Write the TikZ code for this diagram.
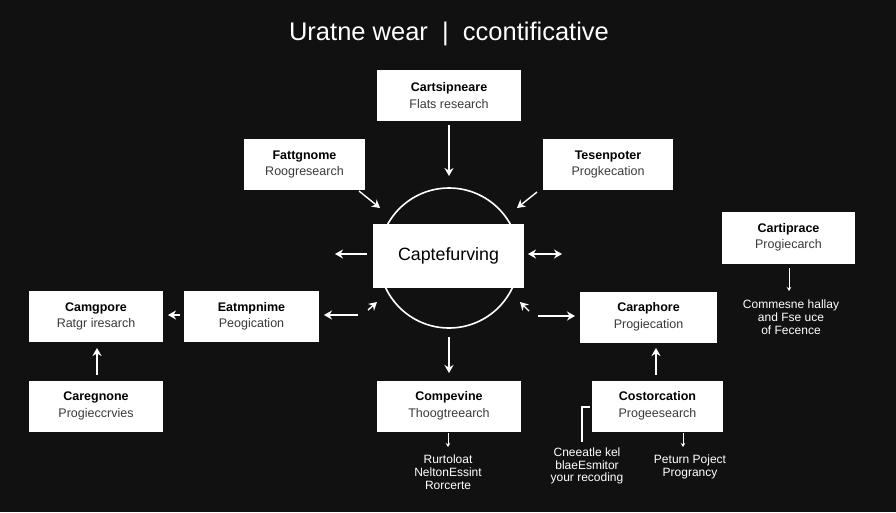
\documentclass[tikz,border=0pt]{standalone}
\usepackage{fontspec}
\setmainfont{Liberation Sans}
\usetikzlibrary{arrows.meta}
\definecolor{bgc}{HTML}{111111}
\definecolor{subc}{HTML}{3A3A3A}
\begin{document}
\begin{tikzpicture}[x=1pt,y=-1pt,
  card/.style={fill=white, inner sep=0pt, align=center, text=black, font=\fontsize{12.5}{16.5}\selectfont},
  arr/.style={draw=white, line width=1.4pt, -{Stealth[length=8pt,width=9pt]}},
  darr/.style={draw=white, line width=1.4pt, {Stealth[length=8pt,width=9pt]}-{Stealth[length=8pt,width=9pt]}},
  tarr/.style={draw=white, line width=0.9pt, -{Stealth[length=4pt,width=4.5pt]}},
  note/.style={text=white, align=center, font=\fontsize{12}{12.8}\selectfont},
  ring/.style={draw=white, line width=1.6pt, circle, inner sep=0pt, minimum size=140pt}]
\fill[bgc] (0,0) rectangle (896,512);
\useasboundingbox (0,0) rectangle (896,512);

% title
\node[text=white, font=\fontsize{25.5}{28}\selectfont] (title) at (449,34) {Uratne wear\ \ |\ \ ccontificative};

% ring and central box
\node[ring] (ring) at (449,258) {};
\node[card, minimum width=151pt, minimum height=64pt, font=\fontsize{17.8}{20}\selectfont] (cap) at (448.5,256) {Captefurving};

% boxes
\node[card, minimum width=144pt, minimum height=51pt] (top) at (449,95.5) {{\bfseries Cartsipneare}\\\textcolor{subc}{Flats research}};
\node[card, minimum width=121pt, minimum height=51pt] (fat) at (304.5,164.5) {{\bfseries Fattgnome}\\\textcolor{subc}{Roogresearch}};
\node[card, minimum width=130pt, minimum height=51pt] (tes) at (608,164.5) {{\bfseries Tesenpoter}\\\textcolor{subc}{Progkecation}};
\node[card, minimum width=133pt, minimum height=52pt] (cart) at (788.5,237.5) {{\bfseries Cartiprace}\\\textcolor{subc}{Progiecarch}};
\node[card, minimum width=135pt, minimum height=51pt] (eat) at (251.5,316.5) {{\bfseries Eatmpnime}\\\textcolor{subc}{Peogication}};
\node[card, minimum width=134pt, minimum height=51pt] (camg) at (96,316.5) {{\bfseries Camgpore}\\\textcolor{subc}{Ratgr iresarch}};
\node[card, minimum width=134pt, minimum height=51pt] (careg) at (96,406) {{\bfseries Caregnone}\\\textcolor{subc}{Progieccrvies}};
\node[card, minimum width=137pt, minimum height=51pt] (cara) at (648.5,317) {{\bfseries Caraphore}\\\textcolor{subc}{Progiecation}};
\node[card, minimum width=144pt, minimum height=51pt] (comp) at (449,406) {{\bfseries Compevine}\\\textcolor{subc}{Thoogtreearch}};
\node[card, minimum width=131pt, minimum height=51pt] (cost) at (657.5,406) {{\bfseries Costorcation}\\\textcolor{subc}{Progeesearch}};

% notes
\node[note] (n1) at (791,317) {Commesne hallay\\and Fse uce\\of Fecence};
\node[note] (n2) at (448,472) {Rurtoloat\\NeltonEssint\\Rorcerte};
\node[note] (n3) at (587,466) {Cneeatle kel\\blaeEsmitor\\your recoding};
\node[note] (n4) at (690,467) {Peturn Poject\\Prograncy};

% free-end coordinates
\coordinate (a1) at (449,125);  \coordinate (b1) at (449,176);
\coordinate (a2) at (359,191);  \coordinate (b2) at (380,208);
\coordinate (a3) at (537,192);  \coordinate (b3) at (517,208);
\coordinate (a4) at (367,254);  \coordinate (b4) at (335,254);
\coordinate (a5) at (528,254);  \coordinate (b5) at (562,254);
\coordinate (a6) at (368,310);  \coordinate (b6) at (377,302);
\coordinate (a7) at (358,315);  \coordinate (b7) at (324,315);
\coordinate (a8) at (180,315);  \coordinate (b8) at (168,315);
\coordinate (a9) at (529,311);  \coordinate (b9) at (520,302);
\coordinate (a10) at (538,316); \coordinate (b10) at (575,316);
\coordinate (a11) at (97,375);  \coordinate (b11) at (97,348);
\coordinate (a12) at (449,337); \coordinate (b12) at (449,373);
\coordinate (a13) at (448,433); \coordinate (b13) at (448,447);
\coordinate (a14) at (656,375); \coordinate (b14) at (656,348);
\coordinate (a15) at (683,433); \coordinate (b15) at (683,447);
\coordinate (a16) at (789,268); \coordinate (b16) at (789,291);
\coordinate (k1) at (590,407); \coordinate (k2) at (582,407); \coordinate (k3) at (582,442);

% connectors
\draw[arr] (a1) -- (b1);
\draw[arr] (a2) -- (b2);
\draw[arr] (a3) -- (b3);
\draw[arr] (a4) -- (b4);
\draw[darr] (a5) -- (b5);
\draw[arr] (a6) -- (b6);
\draw[arr] (a7) -- (b7);
\draw[arr] (a8) -- (b8);
\draw[arr] (a9) -- (b9);
\draw[arr] (a10) -- (b10);
\draw[arr] (a11) -- (b11);
\draw[arr] (a12) -- (b12);
\draw[tarr] (a13) -- (b13);
\draw[arr] (a14) -- (b14);
\draw[tarr] (a15) -- (b15);
\draw[tarr] (a16) -- (b16);
\draw[draw=white, line width=1.2pt] (k1) -- (k2) -- (k3);
\end{tikzpicture}
\end{document}
